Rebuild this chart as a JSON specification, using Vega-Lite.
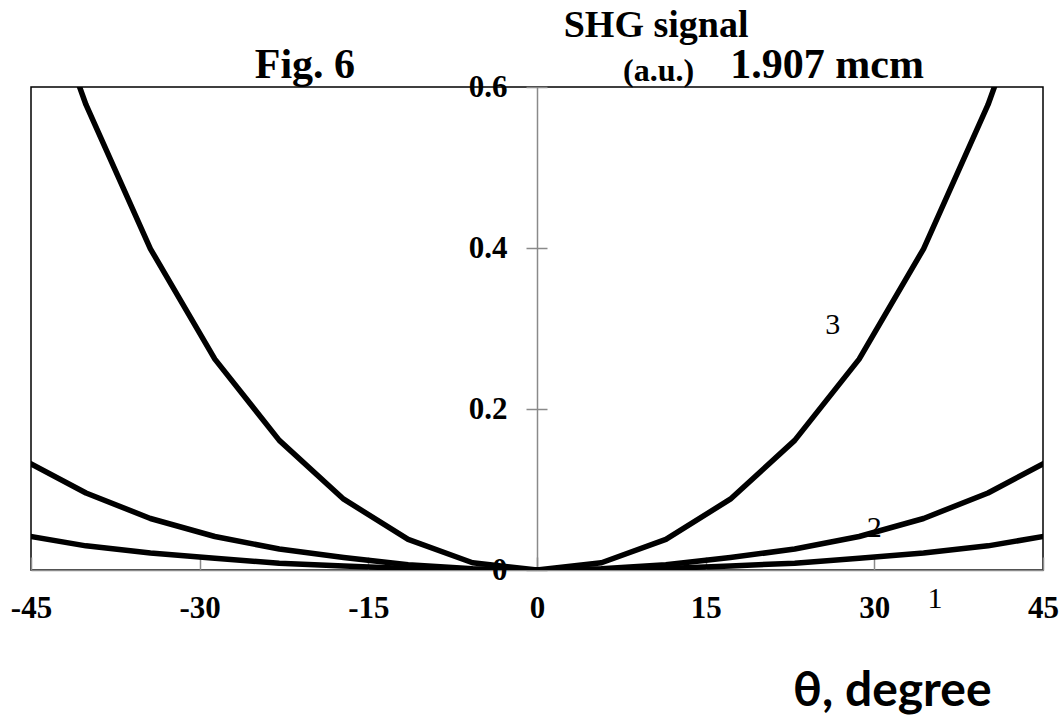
{
  "$schema": "https://vega.github.io/schema/vega-lite/v6.json",
  "autosize": "none",
  "width": 1012,
  "height": 483,
  "padding": {"left": 31, "top": 87, "right": 19, "bottom": 150},
  "background": "white",
  "config": {
    "view": {"stroke": "black", "strokeWidth": 1.5},
    "axis": {"grid": false, "title": null, "labelFlush": false, "domainColor": "#8a8a8a", "domainWidth": 1.5, "tickColor": "#8a8a8a", "tickWidth": 1.5, "labelColor": "black", "labelFont": "Liberation Serif", "labelFontWeight": "bold", "labelFontSize": 31}
  },
  "datasets": {
    "curves": [
      {"curve": "1", "theta": -45.84, "signal": 0.0435},
      {"curve": "1", "theta": -40.11, "signal": 0.030},
      {"curve": "1", "theta": -34.38, "signal": 0.021},
      {"curve": "1", "theta": -28.65, "signal": 0.0145},
      {"curve": "1", "theta": -22.92, "signal": 0.0085},
      {"curve": "1", "theta": -17.19, "signal": 0.005},
      {"curve": "1", "theta": -11.46, "signal": 0.002},
      {"curve": "1", "theta": -5.73, "signal": 0.0005},
      {"curve": "1", "theta": 0, "signal": 0},
      {"curve": "1", "theta": 5.73, "signal": 0.0005},
      {"curve": "1", "theta": 11.46, "signal": 0.002},
      {"curve": "1", "theta": 17.19, "signal": 0.005},
      {"curve": "1", "theta": 22.92, "signal": 0.0085},
      {"curve": "1", "theta": 28.65, "signal": 0.0145},
      {"curve": "1", "theta": 34.38, "signal": 0.021},
      {"curve": "1", "theta": 40.11, "signal": 0.030},
      {"curve": "1", "theta": 45.84, "signal": 0.0435},
      {"curve": "2", "theta": -45.84, "signal": 0.138},
      {"curve": "2", "theta": -40.11, "signal": 0.0957},
      {"curve": "2", "theta": -34.38, "signal": 0.064},
      {"curve": "2", "theta": -28.65, "signal": 0.0416},
      {"curve": "2", "theta": -22.92, "signal": 0.026},
      {"curve": "2", "theta": -17.19, "signal": 0.0155},
      {"curve": "2", "theta": -11.46, "signal": 0.0065},
      {"curve": "2", "theta": -5.73, "signal": 0.0015},
      {"curve": "2", "theta": 0, "signal": 0},
      {"curve": "2", "theta": 5.73, "signal": 0.0015},
      {"curve": "2", "theta": 11.46, "signal": 0.0065},
      {"curve": "2", "theta": 17.19, "signal": 0.0155},
      {"curve": "2", "theta": 22.92, "signal": 0.026},
      {"curve": "2", "theta": 28.65, "signal": 0.0416},
      {"curve": "2", "theta": 34.38, "signal": 0.064},
      {"curve": "2", "theta": 40.11, "signal": 0.0957},
      {"curve": "2", "theta": 45.84, "signal": 0.138},
      {"curve": "3", "theta": -45.84, "signal": 0.80},
      {"curve": "3", "theta": -40.11, "signal": 0.578},
      {"curve": "3", "theta": -34.38, "signal": 0.399},
      {"curve": "3", "theta": -28.65, "signal": 0.262},
      {"curve": "3", "theta": -22.92, "signal": 0.161},
      {"curve": "3", "theta": -17.19, "signal": 0.088},
      {"curve": "3", "theta": -11.46, "signal": 0.038},
      {"curve": "3", "theta": -5.73, "signal": 0.009},
      {"curve": "3", "theta": 0, "signal": 0},
      {"curve": "3", "theta": 5.73, "signal": 0.009},
      {"curve": "3", "theta": 11.46, "signal": 0.038},
      {"curve": "3", "theta": 17.19, "signal": 0.088},
      {"curve": "3", "theta": 22.92, "signal": 0.161},
      {"curve": "3", "theta": 28.65, "signal": 0.262},
      {"curve": "3", "theta": 34.38, "signal": 0.399},
      {"curve": "3", "theta": 40.11, "signal": 0.578},
      {"curve": "3", "theta": 45.84, "signal": 0.80}
    ],
    "curveLabels": [
      {"label": "3", "theta": 26.3, "signal": 0.304},
      {"label": "2", "theta": 30.0, "signal": 0.052},
      {"label": "1", "theta": 35.4, "signal": -0.036}
    ],
    "notes": [
      {"key": "fig", "label": "Fig. 6", "theta": -20.64, "signal": 0.611},
      {"key": "fig", "label": "1.907 mcm", "theta": 25.8, "signal": 0.611},
      {"key": "shg", "label": "SHG signal", "theta": 10.59, "signal": 0.662},
      {"key": "au", "label": "(a.u.)", "theta": 10.81, "signal": 0.6075},
      {"key": "xt", "label": "θ, degree", "theta": 31.6, "signal": -0.169}
    ]
  },
  "layer": [
    {
      "data": {"name": "curves"},
      "mark": {"type": "line", "color": "black", "strokeWidth": 5.5, "clip": true, "strokeJoin": "round"},
      "encoding": {
        "x": {"field": "theta", "type": "quantitative", "scale": {"domain": [-45, 45], "nice": false, "zero": false},
              "axis": {"orient": "bottom", "values": [-45, -30, -15, 0, 15, 30, 45], "labelExpr": "toString(datum.value)", "tickSize": -13, "labelPadding": 36}},
        "y": {"field": "signal", "type": "quantitative", "scale": {"domain": [0, 0.6], "nice": false},
              "axis": {"orient": "left", "offset": -506, "values": [0, 0.2, 0.4, 0.6], "labelExpr": "datum.value == 0 ? '0' : format(datum.value, '.1f')", "tickSize": 11, "labelPadding": 19}},
        "detail": {"field": "curve"}
      }
    },
    {
      "data": {"name": "curveLabels"},
      "mark": {"type": "text", "font": "Liberation Serif", "fontSize": 30, "color": "black", "baseline": "middle", "align": "center"},
      "encoding": {
        "x": {"field": "theta", "type": "quantitative"},
        "y": {"field": "signal", "type": "quantitative",
              "axis": {"orient": "right", "offset": -506, "values": [0, 0.2, 0.4, 0.6], "labels": false, "domain": false, "tickSize": 10}},
        "text": {"field": "label"}
      }
    },
    {
      "data": {"name": "notes"},
      "transform": [{"filter": "datum.key == 'fig'"}],
      "mark": {"type": "text", "font": "Liberation Serif", "fontWeight": "bold", "fontSize": 42, "color": "black", "baseline": "alphabetic", "align": "center"},
      "encoding": {
        "x": {"field": "theta", "type": "quantitative"},
        "y": {"field": "signal", "type": "quantitative", "axis": null},
        "text": {"field": "label"}
      }
    },
    {
      "data": {"name": "notes"},
      "transform": [{"filter": "datum.key == 'shg'"}],
      "mark": {"type": "text", "font": "Liberation Serif", "fontWeight": "bold", "fontSize": 38, "color": "black", "baseline": "alphabetic", "align": "center"},
      "encoding": {
        "x": {"field": "theta", "type": "quantitative"},
        "y": {"field": "signal", "type": "quantitative", "axis": null},
        "text": {"field": "label"}
      }
    },
    {
      "data": {"name": "notes"},
      "transform": [{"filter": "datum.key == 'au'"}],
      "mark": {"type": "text", "font": "Liberation Serif", "fontWeight": "bold", "fontSize": 32, "color": "black", "baseline": "alphabetic", "align": "center"},
      "encoding": {
        "x": {"field": "theta", "type": "quantitative"},
        "y": {"field": "signal", "type": "quantitative", "axis": null},
        "text": {"field": "label"}
      }
    },
    {
      "data": {"name": "notes"},
      "transform": [{"filter": "datum.key == 'xt'"}],
      "mark": {"type": "text", "font": "Lato", "fontWeight": "bold", "fontSize": 48, "color": "black", "baseline": "alphabetic", "align": "center"},
      "encoding": {
        "x": {"field": "theta", "type": "quantitative"},
        "y": {"field": "signal", "type": "quantitative", "axis": null},
        "text": {"field": "label"}
      }
    }
  ]
}
